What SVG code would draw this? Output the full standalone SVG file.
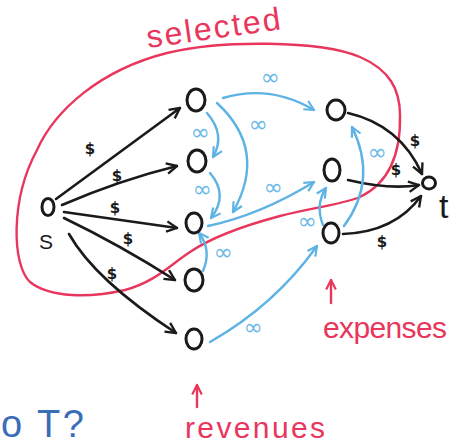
<svg xmlns="http://www.w3.org/2000/svg" width="461" height="446" viewBox="0 0 461 446">
<style>
.node{fill:none;stroke:#1a1a1a;stroke-width:3}
.be{fill:none;stroke:#1a1a1a;stroke-width:2.6;stroke-linecap:round}
.ue{fill:none;stroke:#5db3e4;stroke-width:2.4;stroke-linecap:round}
.red{fill:none;stroke:#e8365d;stroke-width:2.4;stroke-linecap:round}
.bl{font-family:"DejaVu Sans",sans-serif;font-size:15px;font-weight:bold;fill:#1a1a1a;text-anchor:middle}
.ul{font-family:"DejaVu Sans",sans-serif;font-size:23px;fill:#6ab9e6;text-anchor:middle}
.rt{font-family:"Liberation Sans",sans-serif;fill:#e8365d}
</style>
<defs>
<marker id="ab" viewBox="0 0 10 10" refX="9" refY="5" markerWidth="13" markerHeight="13" markerUnits="userSpaceOnUse" orient="auto">
<path d="M1,1 L9,5 L1,9" fill="none" stroke="#1a1a1a" stroke-width="1.8" stroke-linejoin="round"/>
</marker>
<marker id="au" viewBox="0 0 10 10" refX="9" refY="5" markerWidth="12" markerHeight="12" markerUnits="userSpaceOnUse" orient="auto">
<path d="M1,1 L9,5 L1,9" fill="none" stroke="#5db3e4" stroke-width="1.8" stroke-linejoin="round"/>
</marker>
<marker id="ar" viewBox="0 0 10 10" refX="9" refY="5" markerWidth="12" markerHeight="12" markerUnits="userSpaceOnUse" orient="auto">
<path d="M1,1 L9,5 L1,9" fill="none" stroke="#e8365d" stroke-width="1.8" stroke-linejoin="round"/>
</marker>
</defs>

<g id="selected-region">
<path class="red" d="M37,150 C55,110 100,70 167,53 C220,40 320,40 360,57 C390,70 400,90 400,115 C401,160 385,185 360,197 C340,205 310,208 280,216 C250,224 215,235 190,252 C170,265 155,282 125,290 C90,298 50,298 30,282 C12,265 10,200 37,150 Z"/>
<text class="rt" x="148" y="48" font-size="32" textLength="135" transform="rotate(-8 148 48)">selected</text>
</g>

<g id="connectors">
<g id="black-edges">
<path class="be" d="M56,199 L180,108" marker-end="url(#ab)"/>
<path class="be" d="M62,205 Q120,180 177,166" marker-end="url(#ab)"/>
<path class="be" d="M64,212 Q120,220 177,228" marker-end="url(#ab)"/>
<path class="be" d="M64,218 Q120,245 175,280" marker-end="url(#ab)"/>
<path class="be" d="M69,234 Q95,280 176,333" marker-end="url(#ab)"/>
<path class="be" d="M348,113 Q400,125 422,174" marker-end="url(#ab)"/>
<path class="be" d="M348,180 Q390,190 419,185" marker-end="url(#ab)"/>
<path class="be" d="M343,234 Q395,232 421,196" marker-end="url(#ab)"/>
<text class="bl" x="90" y="154">$</text>
<text class="bl" x="117" y="181">$</text>
<text class="bl" x="115" y="213">$</text>
<text class="bl" x="128" y="244">$</text>
<text class="bl" x="112" y="279">$</text>
<text class="bl" x="415" y="146">$</text>
<text class="bl" x="396" y="175">$</text>
<text class="bl" x="382" y="247">$</text>
</g>
<g id="blue-edges">
<path class="ue" d="M223,98 Q270,84 314,110" marker-end="url(#au)"/>
<path class="ue" d="M207,113 Q226,135 213,157" marker-end="url(#au)"/>
<path class="ue" d="M217,103 Q268,150 233,212" marker-end="url(#au)"/>
<path class="ue" d="M210,173 Q229,195 211,218" marker-end="url(#au)"/>
<path class="ue" d="M208,226 Q260,215 314,182" marker-end="url(#au)"/>
<path class="ue" d="M203,271 Q212,250 199,233" marker-end="url(#au)"/>
<path class="ue" d="M210,342 Q275,305 317,246" marker-end="url(#au)"/>
<path class="ue" d="M323,225 Q315,205 326,188" marker-end="url(#au)"/>
<path class="ue" d="M344,226 Q378,180 352,127" marker-end="url(#au)"/>
<text class="ul" x="270" y="85">∞</text>
<text class="ul" x="200" y="140">∞</text>
<text class="ul" x="258" y="132">∞</text>
<text class="ul" x="202" y="197">∞</text>
<text class="ul" x="273" y="195">∞</text>
<text class="ul" x="223" y="260">∞</text>
<text class="ul" x="253" y="335">∞</text>
<text class="ul" x="307" y="229">∞</text>
<text class="ul" x="377" y="160">∞</text>
</g>
</g>

<g id="s"><ellipse class="node" cx="48" cy="207" rx="6" ry="8.5"/><text x="39" y="249" font-family="Liberation Sans,sans-serif" font-size="21" fill="#1a1a1a">S</text></g>
<g id="r1"><ellipse class="node" cx="196" cy="100" rx="9" ry="11"/></g>
<g id="r2"><ellipse class="node" cx="197" cy="161" rx="9" ry="11"/></g>
<g id="r3"><ellipse class="node" cx="194" cy="223" rx="8" ry="10"/></g>
<g id="r4"><ellipse class="node" cx="194" cy="280" rx="9" ry="11"/></g>
<g id="r5"><ellipse class="node" cx="194" cy="339" rx="8" ry="10"/></g>
<g id="e1"><ellipse class="node" cx="336" cy="110" rx="9" ry="10"/></g>
<g id="e2"><ellipse class="node" cx="332" cy="170" rx="8" ry="11"/></g>
<g id="e3"><ellipse class="node" cx="331" cy="233" rx="8" ry="10"/></g>
<g id="t"><ellipse class="node" cx="429" cy="183" rx="6.5" ry="6"/><text x="439" y="218" font-family="Liberation Sans,sans-serif" font-size="34" fill="#1a1a1a">t</text></g>

<g id="expenses">
<path class="red" d="M331,303 L331,280" marker-end="url(#ar)"/>
<text class="rt" x="323" y="338" font-size="30" textLength="124">expenses</text>
</g>
<g id="revenues">
<path class="red" d="M197,407 L197,385" marker-end="url(#ar)"/>
<text class="rt" x="185" y="438" font-size="30" textLength="140">revenues</text>
</g>
<text x="1" y="437" font-family="Liberation Sans,sans-serif" font-size="38" fill="#3a6db8" textLength="83">o T?</text>
</svg>
